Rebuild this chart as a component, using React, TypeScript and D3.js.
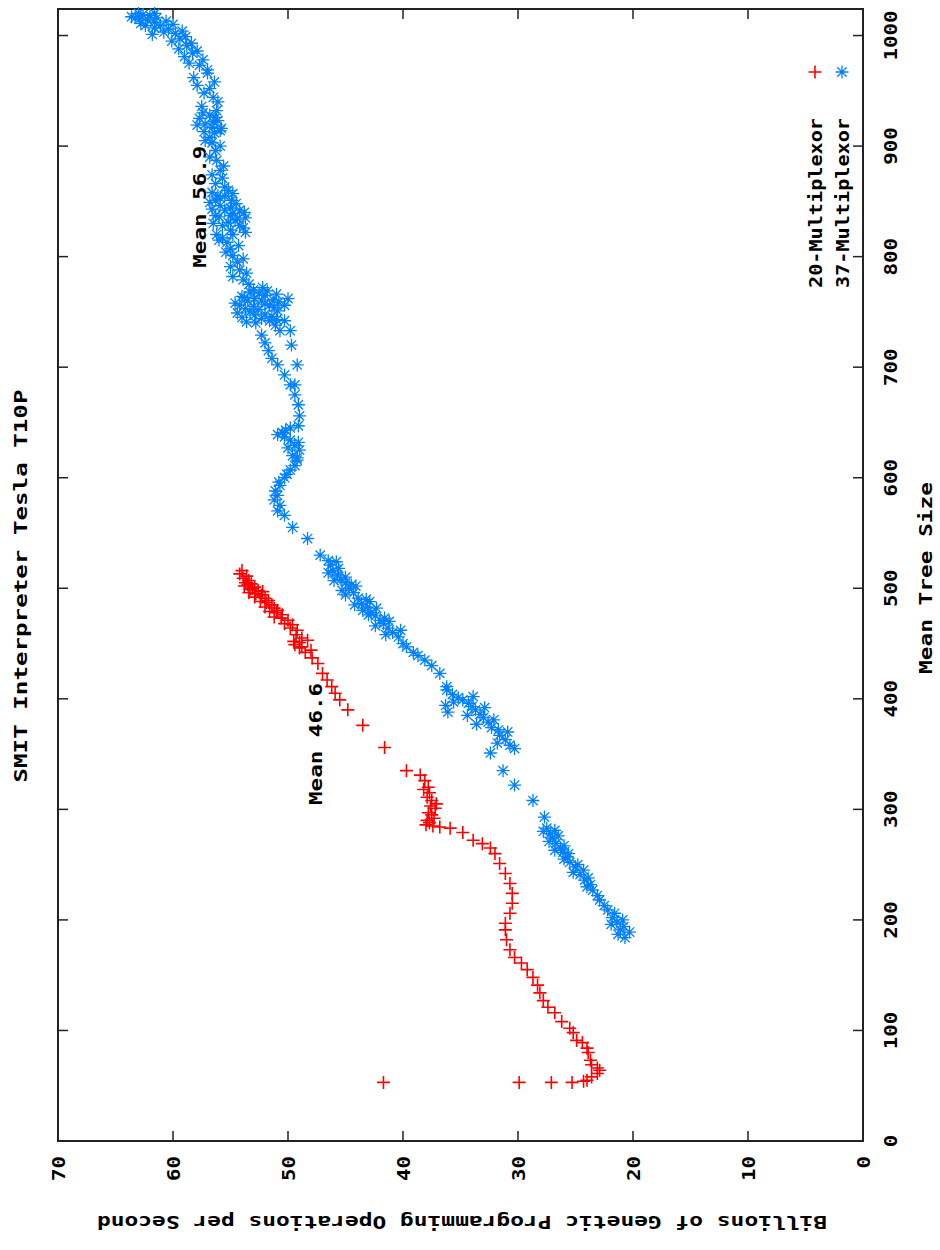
import React from 'react';
import * as d3 from 'd3';

// one [mean tree size, billions of GP operations per second] pair per generation
const mux20: [number, number][] = [
  [53, 41.7], [53, 29.9], [53, 27.1], [53, 25.3], [54, 24.3], [55, 24.0], [58, 23.6], [61, 23.1],
  [64, 22.9], [66, 23.1], [69, 23.6], [73, 23.7], [80, 23.9], [84, 24.0], [89, 24.4], [91, 24.9],
  [98, 25.2], [102, 25.5], [108, 26.2], [116, 26.8], [121, 27.4], [127, 27.8], [134, 28.1], [141, 28.3],
  [148, 28.7], [155, 29.2], [161, 29.7], [166, 30.3], [173, 30.7], [182, 31.0], [191, 31.1], [197, 31.1],
  [206, 30.7], [215, 30.5], [224, 30.5], [233, 30.7], [242, 31.1], [251, 31.6], [260, 32.0], [265, 32.4],
  [269, 33.1], [272, 33.9], [279, 34.8], [283, 35.9], [284, 36.8], [285, 37.4], [286, 38.0], [288, 37.7],
  [290, 37.9], [292, 37.3], [295, 37.5], [297, 37.8], [301, 37.2], [303, 37.6], [305, 37.1], [308, 37.5],
  [311, 37.9], [315, 37.7], [318, 38.2], [320, 37.8], [326, 38.1], [331, 38.5], [335, 39.7], [356, 41.6],
  [376, 43.5], [390, 44.8], [399, 45.5], [405, 45.9], [411, 46.2], [417, 46.6], [423, 47.0], [432, 47.4],
  [437, 47.9], [442, 48.5], [444, 48.0], [446, 49.0], [447, 48.8], [449, 49.4], [451, 49.0], [452, 49.5],
  [453, 48.3], [455, 48.8], [458, 49.3], [462, 49.2], [464, 49.8], [467, 49.6], [468, 50.3], [471, 50.0],
  [473, 50.6], [476, 50.5], [478, 51.0], [480, 50.9], [482, 51.2], [485, 51.4], [487, 51.9], [489, 51.7],
  [491, 52.0], [494, 52.3], [495, 52.8], [497, 52.2], [498, 52.6], [499, 53.3], [500, 53.1], [501, 52.9],
  [502, 53.8], [503, 53.5], [504, 53.2], [505, 53.7], [474, 51.2], [479, 51.6], [483, 52.0], [488, 52.4],
  [492, 52.9], [496, 53.4], [507, 53.4], [509, 53.9], [511, 53.6], [513, 54.2], [516, 54.0],
];

const mux37: [number, number][] = [
  [184, 20.7], [187, 21.3], [189, 20.3], [191, 21.1], [194, 20.8], [196, 21.9], [198, 21.4], [200, 20.9],
  [202, 21.8], [206, 21.6], [209, 22.2], [213, 22.5], [218, 22.9], [222, 23.1], [227, 23.5], [230, 24.0],
  [232, 23.7], [236, 24.2], [238, 23.9], [241, 24.6], [243, 25.2], [245, 24.3], [248, 25.0], [250, 24.8],
  [252, 25.5], [255, 26.0], [257, 25.7], [260, 25.6], [261, 26.1], [263, 26.8], [265, 26.3], [267, 26.0],
  [269, 26.7], [271, 27.3], [274, 27.0], [276, 26.5], [278, 27.2], [280, 27.8], [281, 26.8], [283, 27.5],
  [293, 27.7], [308, 28.7], [322, 30.3], [335, 31.3], [351, 32.4], [355, 30.3], [358, 30.7], [360, 31.8],
  [363, 31.1], [367, 31.6], [370, 30.9], [372, 31.7], [374, 32.3], [377, 33.6], [379, 32.6], [381, 32.1],
  [383, 33.0], [385, 34.4], [386, 33.3], [388, 36.1], [390, 33.7], [392, 32.9], [393, 34.0], [394, 36.3],
  [396, 34.3], [397, 35.6], [399, 34.8], [401, 35.2], [402, 33.9], [404, 35.7], [408, 36.2], [411, 36.2],
  [423, 36.8], [430, 37.5], [435, 38.1], [439, 38.7], [442, 39.1], [447, 39.7], [450, 40.0], [456, 40.4],
  [458, 41.5], [460, 40.9], [462, 40.2], [464, 41.3], [466, 42.4], [468, 41.7], [471, 42.0], [473, 41.6],
  [475, 42.4], [478, 42.8], [480, 43.5], [483, 43.1], [486, 43.6], [488, 42.9], [491, 43.9], [494, 45.0],
  [496, 44.3], [500, 44.7], [502, 44.1], [505, 45.0], [508, 45.4], [512, 45.7], [516, 46.1], [521, 46.3],
  [524, 45.8], [525, 46.5], [530, 47.2], [545, 48.3], [555, 49.6], [566, 50.3], [575, 50.7], [584, 50.9],
  [593, 50.7], [600, 50.3], [607, 49.8], [611, 49.4], [616, 49.2], [618, 49.2], [625, 49.0], [629, 49.4],
  [634, 49.8], [637, 50.3], [641, 50.5], [645, 49.8], [647, 49.1], [656, 49.0], [666, 49.1], [675, 49.4],
  [684, 49.8], [684, 49.4], [693, 50.3], [702, 50.9], [702, 49.2], [708, 51.4], [715, 51.7], [720, 49.7],
  [722, 52.0], [729, 52.3], [733, 49.8], [733, 50.7], [738, 51.1], [742, 50.3], [742, 51.6], [744, 52.3],
  [747, 52.9], [750, 53.3], [751, 50.9], [753, 53.7], [756, 54.2], [756, 51.6], [756, 50.3], [760, 53.5],
  [760, 52.3], [762, 52.9], [762, 50.0], [764, 54.0], [765, 52.0], [768, 53.3], [779, 53.9], [788, 54.2],
  [795, 54.4], [801, 54.8], [807, 55.0], [813, 55.3], [817, 55.7], [822, 53.7], [828, 54.2], [828, 55.7],
  [833, 54.6], [835, 53.7], [837, 55.0], [837, 56.3], [842, 55.5], [842, 54.2], [846, 55.9], [851, 56.3],
  [851, 54.9], [855, 56.1], [855, 55.5], [863, 55.5], [871, 55.7], [878, 55.9], [887, 56.2], [896, 56.3],
  [903, 56.6], [908, 56.8], [914, 55.9], [917, 56.6], [920, 57.2], [923, 56.1], [925, 57.7], [928, 56.8],
  [944, 56.5], [952, 56.8], [966, 57.0], [973, 57.7], [984, 58.3], [991, 58.8], [997, 59.4], [1001, 61.8],
  [1002, 59.8], [1006, 60.4], [1009, 61.1], [1009, 62.4], [1012, 61.6], [1014, 62.2], [1015, 62.9],
  [1016, 63.3], [1018, 62.0],
  // denser stretches
  [470, 41.2], [476, 43.0], [482, 42.3], [485, 44.2], [490, 43.2], [498, 45.3], [503, 44.5], [507, 46.0],
  [510, 45.0], [514, 46.5], [518, 45.6], [570, 50.9], [580, 51.2], [588, 51.1], [596, 50.8], [603, 50.1],
  [620, 49.6], [627, 50.0], [632, 49.1], [639, 50.9], [643, 50.2], [740, 52.8], [741, 53.6], [743, 51.0],
  [745, 54.0], [746, 51.4], [748, 52.0], [749, 54.4], [752, 52.6], [754, 51.2], [755, 53.0], [757, 52.0],
  [758, 54.6], [759, 50.8], [761, 51.3], [763, 53.8], [766, 51.0], [767, 52.5], [769, 51.8], [770, 53.0],
  [772, 52.2], [775, 53.4], [782, 54.8], [785, 53.6], [791, 55.0], [798, 53.9], [804, 55.4], [810, 54.3],
  [815, 56.0], [820, 54.8], [820, 56.2], [824, 55.0], [826, 53.9], [830, 56.5], [831, 55.2], [834, 54.4],
  [836, 56.0], [839, 54.8], [840, 53.8], [843, 56.6], [844, 55.0], [848, 54.5], [849, 56.8], [853, 55.9],
  [857, 54.8], [858, 56.6], [860, 55.2], [866, 56.3], [874, 56.6], [882, 55.6], [890, 56.8], [900, 55.9],
  [905, 57.2], [912, 56.4], [913, 57.3], [916, 55.8], [919, 57.9], [922, 56.5], [926, 56.3], [930, 57.4],
  [932, 56.2], [936, 57.5], [940, 56.1], [948, 57.3], [955, 57.9], [958, 56.4], [962, 58.2], [969, 57.0],
  [975, 58.6], [978, 57.4], [981, 59.0], [986, 57.9], [988, 59.5], [993, 58.4], [995, 60.1], [999, 58.9],
  [1003, 60.8], [1004, 59.2], [1007, 61.6], [1010, 60.0], [1011, 62.8], [1013, 60.6], [1016, 61.4],
  [1017, 63.6], [1019, 62.6], [1020, 61.6], [1020, 63.0],
];

const treeTicks = [0, 100, 200, 300, 400, 500, 600, 700, 800, 900, 1000];
const opsTicks = [0, 10, 20, 30, 40, 50, 60, 70];
const seriesNames = ['20-Multiplexor', '37-Multiplexor'];
const meanNotes = [
  { text: 'Mean 46.6', tree: 304, ops: 47.6 },
  { text: 'Mean 56.9', tree: 790, ops: 57.7 },
];

const font = "'DejaVu Sans Mono', monospace";

const plusPath = (s: number) => `M${-s},0H${s}M0,${-s}V${s}`;
const starPath = (s: number) => {
  const d = s * 0.72;
  return `${plusPath(s)}M${-d},${-d}L${d},${d}M${-d},${d}L${d},${-d}`;
};

const App = () => {
  const width = 940;
  const height = 1250;
  // the plot is drawn turned a quarter turn: tree size runs up, ops run left
  const frame = { left: 58, right: 863, top: 9, bottom: 1141 };

  const treeScale = d3.scaleLinear().domain([0, 1024]).range([frame.bottom, frame.top]);
  const opsScale = d3.scaleLinear().domain([0, 70]).range([frame.right, frame.left]);

  const red = '#ff0000';
  const blue = '#0080ff';
  const textStyle = { fontFamily: font, fontWeight: 'bold' as const, fontSize: 18, fill: '#000' };

  return (
    <svg width={width} height={height} style={{ position: 'absolute', left: 0, top: 0, background: '#fff' }}>
      <rect x={0} y={0} width={width} height={height} fill='#fff' />

      {/* ticks on all four sides */}
      {treeTicks.map(t => (
        <g key={'t' + t}>
          <line x1={frame.left} x2={frame.left + 10} y1={treeScale(t)} y2={treeScale(t)} stroke='#222' strokeWidth={1.5} />
          <line x1={frame.right} x2={frame.right - 10} y1={treeScale(t)} y2={treeScale(t)} stroke='#222' strokeWidth={1.5} />
          <text
            transform={`translate(890,${treeScale(t)}) rotate(-90)`}
            textAnchor='middle' dominantBaseline='central' style={textStyle}
            textLength={String(t).length * 12.5} lengthAdjust='spacingAndGlyphs'
          >{t}</text>
        </g>
      ))}
      {opsTicks.map(v => (
        <g key={'v' + v}>
          <line x1={opsScale(v)} x2={opsScale(v)} y1={frame.bottom} y2={frame.bottom - 10} stroke='#222' strokeWidth={1.5} />
          <line x1={opsScale(v)} x2={opsScale(v)} y1={frame.top} y2={frame.top + 10} stroke='#222' strokeWidth={1.5} />
          <text
            transform={`translate(${opsScale(v)},${frame.bottom + 15}) rotate(-90)`}
            textAnchor='end' dominantBaseline='central' style={textStyle}
            textLength={String(v).length * 12.5} lengthAdjust='spacingAndGlyphs'
          >{v}</text>
        </g>
      ))}

      <rect
        x={frame.left} y={frame.top} width={frame.right - frame.left} height={frame.bottom - frame.top}
        fill='none' stroke='#222' strokeWidth={2}
      />

      {/* title and axis labels */}
      <text transform='translate(20,586) rotate(-90)' textAnchor='middle' dominantBaseline='central'
        style={textStyle} textLength={393} lengthAdjust='spacingAndGlyphs'>
        SMIT Interpreter Tesla T10P
      </text>
      <text transform='translate(925,578) rotate(-90)' textAnchor='middle' dominantBaseline='central'
        style={textStyle} textLength={192} lengthAdjust='spacingAndGlyphs'>
        Mean Tree Size
      </text>
      <text transform='translate(462,1222) rotate(180)' textAnchor='middle' dominantBaseline='central'
        style={textStyle} textLength={730} lengthAdjust='spacingAndGlyphs'>
        Billions of Genetic Programming Operations per Second
      </text>

      {/* mean notes */}
      {meanNotes.map(n => (
        <text key={n.text}
          transform={`translate(${opsScale(n.ops)},${treeScale(n.tree)}) rotate(-90)`}
          dominantBaseline='central' style={textStyle}
          textLength={122} lengthAdjust='spacingAndGlyphs'
        >{n.text}</text>
      ))}

      {/* series */}
      <g>
        {mux20.map((d, i) => (
          <path key={'r' + i} transform={`translate(${opsScale(d[1])},${treeScale(d[0])})`}
            d={plusPath(6.5)} stroke={red} strokeWidth={1.6} fill='none' />
        ))}
      </g>
      <g>
        {mux37.map((d, i) => (
          <path key={'b' + i} transform={`translate(${opsScale(d[1])},${treeScale(d[0])})`}
            d={starPath(6.5)} stroke={blue} strokeWidth={1.3} fill='none' />
        ))}
      </g>

      {/* key */}
      {seriesNames.map((name, i) => (
        <g key={name} transform={`translate(${815 + i * 27},0)`}>
          <path transform='translate(0,72)' d={i === 0 ? plusPath(6.5) : starPath(6.5)}
            stroke={i === 0 ? red : blue} strokeWidth={i === 0 ? 1.6 : 1.3} fill='none' />
          <text transform='translate(0,118) rotate(-90)' textAnchor='end' dominantBaseline='central'
            style={textStyle} textLength={170} lengthAdjust='spacingAndGlyphs'>{name}</text>
        </g>
      ))}
    </svg>
  );
};

export default App;
